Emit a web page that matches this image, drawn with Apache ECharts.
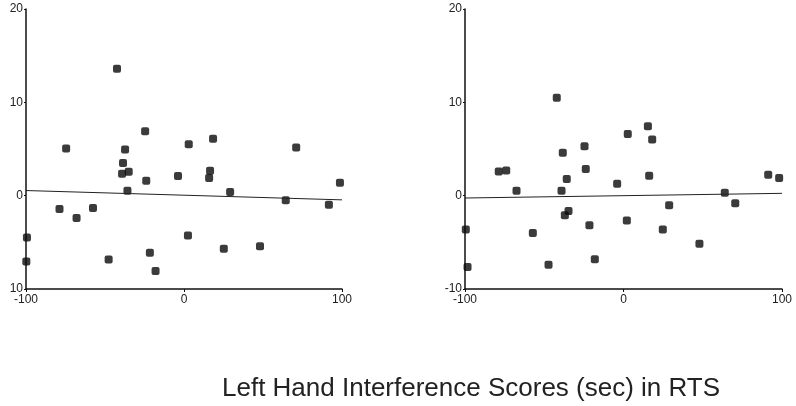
<!DOCTYPE html>
<html>
<head>
<meta charset="utf-8">
<script src="https://cdn.jsdelivr.net/npm/echarts@6/dist/echarts.min.js"></script>
<style>
  html, body { margin: 0; padding: 0; background: #fff; }
  #chart { width: 796px; height: 406px; }
</style>
</head>
<body>
<div id="chart"></div>
<script>
// scatter points [interference score, y value]
const leftPoints = [
  [-42.4, 13.6], [-24.6, 6.9], [-74.6, 5.05], [-37.3, 4.95], [-38.6, 3.5],
  [-39.2, 2.35], [-35.0, 2.56], [-35.8, 0.53], [-23.9, 1.6], [-3.8, 2.1],
  [3.0, 5.5], [18.4, 6.1], [16.5, 2.67], [15.9, 1.9], [29.2, 0.39],
  [71.0, 5.16], [98.7, 1.39], [64.4, -0.5], [91.7, -0.96], [-78.8, -1.42],
  [-68.0, -2.38], [-57.6, -1.32], [-99.4, -4.48], [-99.8, -7.05], [-47.7, -6.83],
  [-21.6, -6.12], [-18.0, -8.08], [2.5, -4.27], [25.2, -5.69], [48.1, -5.41]
]
const rightPoints = [
  [-42.1, 10.5], [15.4, 7.44], [2.7, 6.62], [18.1, 6.01], [-24.6, 5.3],
  [-38.3, 4.59], [-23.8, 2.85], [-78.7, 2.6], [-74.0, 2.7], [-35.8, 1.78],
  [-4.0, 1.28], [16.2, 2.14], [-67.5, 0.53], [-39.1, 0.53], [91.3, 2.24],
  [98.2, 1.89], [63.9, 0.32], [70.5, -0.82], [28.8, -1.03], [-34.7, -1.64],
  [-37.0, -2.1], [2.1, -2.67], [-21.5, -3.17], [24.8, -3.63], [-99.5, -3.63],
  [-57.2, -3.99], [47.9, -5.16], [-18.1, -6.8], [-47.3, -7.4], [-98.4, -7.65]
]
// fitted lines, end points
const leftTrend = [[-100, 0.55], [100, -0.45]]
const rightTrend = [[-100, -0.25], [100, 0.25]]

const xTicks = [-100, 0, 100]
const yTicks = [-10, 0, 10, 20]
const leftYLabels = ['10', '0', '10', '20']   // minus sign lost in the original
const rightYLabels = ['-10', '0', '10', '20']
const title = 'Left Hand Interference Scores (sec) in RTS'

const labelFont = { color: '#222', fontSize: 12, fontFamily: 'Liberation Sans' }

function xAxis (grid) {
  return {
    gridIndex: grid,
    type: 'value',
    min: xTicks[0],
    max: xTicks[xTicks.length - 1],
    interval: 100,
    splitLine: { show: false },
    axisLine: { onZero: false, lineStyle: { color: '#111', width: 1.5 } },
    axisTick: { length: 3, lineStyle: { color: '#111' } },
    axisLabel: Object.assign({ margin: 5 }, labelFont)
  }
}
function yAxis (grid, labels) {
  return {
    gridIndex: grid,
    type: 'value',
    min: yTicks[0],
    max: yTicks[yTicks.length - 1],
    interval: 10,
    splitLine: { show: false },
    axisLine: { onZero: false, lineStyle: { color: '#111', width: 1.5 } },
    axisTick: { length: 2, lineStyle: { color: '#111' } },
    axisLabel: Object.assign({
      margin: 3,
      formatter: v => labels[yTicks.indexOf(v)]
    }, labelFont)
  }
}
function dots (i, data) {
  return {
    type: 'scatter',
    xAxisIndex: i,
    yAxisIndex: i,
    data: data,
    symbol: 'roundRect',
    symbolSize: 8,
    clip: false,
    itemStyle: { color: '#0a0a0a' }
  }
}
function trend (i, data) {
  return {
    type: 'line',
    xAxisIndex: i,
    yAxisIndex: i,
    data: data,
    symbol: 'none',
    lineStyle: { color: '#222', width: 1 }
  }
}

const chart = echarts.init(document.getElementById('chart'))
chart.setOption({
  animation: false,
  backgroundColor: '#fff',
  title: {
    text: title,
    left: 217,
    top: 371,
    textStyle: { color: '#222', fontSize: 26, fontWeight: 'normal', fontFamily: 'Liberation Sans' }
  },
  grid: [
    { left: 26, top: 9, width: 316, height: 280 },
    { left: 465, top: 9, width: 317, height: 280 }
  ],
  xAxis: [xAxis(0), xAxis(1)],
  yAxis: [yAxis(0, leftYLabels), yAxis(1, rightYLabels)],
  series: [
    trend(0, leftTrend),
    dots(0, leftPoints),
    trend(1, rightTrend),
    dots(1, rightPoints)
  ]
})
</script>
</body>
</html>
